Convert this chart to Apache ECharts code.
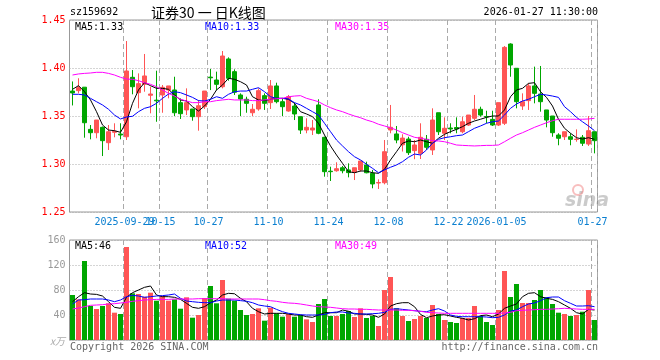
<!DOCTYPE html>
<html>
<head>
<meta charset="utf-8">
<script src="https://cdn.jsdelivr.net/npm/echarts@6/dist/echarts.min.js"></script>
<style>html,body{margin:0;padding:0;background:#fff;}#c{width:660px;height:360px;}</style>
</head>
<body>
<div id="c"></div>
<script>
// ---------- data ----------
const dates = [
'2025-09-16','2025-09-17','2025-09-18','2025-09-19','2025-09-22','2025-09-23','2025-09-24','2025-09-25','2025-09-26','2025-09-29',
'2025-09-30','2025-10-09','2025-10-10','2025-10-13','2025-10-14','2025-10-15','2025-10-16','2025-10-17','2025-10-20','2025-10-21',
'2025-10-22','2025-10-23','2025-10-24','2025-10-27','2025-10-28','2025-10-29','2025-10-30','2025-10-31','2025-11-03','2025-11-04',
'2025-11-05','2025-11-06','2025-11-07','2025-11-10','2025-11-11','2025-11-12','2025-11-13','2025-11-14','2025-11-17','2025-11-18',
'2025-11-19','2025-11-20','2025-11-21','2025-11-24','2025-11-25','2025-11-26','2025-11-27','2025-11-28','2025-12-01','2025-12-02',
'2025-12-03','2025-12-04','2025-12-05','2025-12-08','2025-12-09','2025-12-10','2025-12-11','2025-12-12','2025-12-15','2025-12-16',
'2025-12-17','2025-12-18','2025-12-19','2025-12-22','2025-12-23','2025-12-24','2025-12-25','2025-12-26','2025-12-29','2025-12-30',
'2025-12-31','2026-01-05','2026-01-06','2026-01-07','2026-01-08','2026-01-09','2026-01-12','2026-01-13','2026-01-14','2026-01-15',
'2026-01-16','2026-01-19','2026-01-20','2026-01-21','2026-01-22','2026-01-23','2026-01-26','2026-01-27'];

const openP = [1.376,1.3764,1.380,1.3361,1.3326,1.3382,1.3222,1.333,1.3312,1.3284,
1.3903,1.3743,1.383,1.3716,1.3665,1.3719,1.3771,1.3771,1.3639,1.3563,
1.3573,1.3493,1.3597,1.3905,1.3875,1.3805,1.4094,1.3962,1.3719,1.3674,
1.3534,1.3573,1.3712,1.3639,1.3813,1.3649,1.3552,1.3604,1.3493,1.3354,
1.3354,1.3615,1.3278,1.2925,1.293,1.2961,1.2938,1.2914,1.2938,1.299,
1.2903,1.2802,1.2805,1.3354,1.3313,1.320,1.326,1.3139,1.3111,1.3257,
1.3146,1.3534,1.332,1.3375,1.338,1.3336,1.3406,1.3476,1.357,1.3495,
1.3465,1.3406,1.3424,1.425,1.3997,1.3604,1.366,1.3813,1.3729,1.3563,
1.35,1.3302,1.3284,1.3284,1.3255,1.3278,1.3208,1.3336];
const closeP = [1.374,1.3795,1.343,1.3326,1.3458,1.3243,1.3336,1.334,1.3302,1.3969,
1.3805,1.3837,1.3917,1.3729,1.3658,1.3799,1.3813,1.3534,1.3524,1.3639,
1.3493,1.3607,1.376,1.3898,1.383,1.4125,1.3893,1.3747,1.3677,1.3632,
1.357,1.3764,1.3632,1.3813,1.3649,1.3597,1.3701,1.3521,1.3354,1.3382,
1.3375,1.332,1.292,1.292,1.2951,1.293,1.291,1.2961,1.3031,1.2909,
1.2792,1.2807,1.3128,1.3382,1.325,1.327,1.3118,1.3198,1.3278,1.3174,
1.3458,1.3336,1.3372,1.3365,1.3365,1.344,1.351,1.357,1.351,1.349,
1.3406,1.3639,1.4215,1.4031,1.3649,1.3649,1.3813,1.3736,1.3649,1.3458,
1.3326,1.3268,1.3336,1.3257,1.3259,1.3216,1.3347,1.3243];
const lowP = [1.361,1.3736,1.3274,1.3257,1.3268,1.3083,1.3146,1.3278,1.3257,1.325,
1.3726,1.358,1.3753,1.3528,1.344,1.3534,1.3684,1.35,1.3469,1.351,
1.3451,1.3347,1.3573,1.377,1.377,1.3788,1.3868,1.3719,1.35,1.3534,
1.35,1.3555,1.3563,1.3573,1.3632,1.35,1.3545,1.3458,1.3313,1.332,
1.3302,1.331,1.2868,1.2823,1.292,1.2903,1.2861,1.2833,1.292,1.2903,
1.2747,1.274,1.2788,1.332,1.3216,1.313,1.3094,1.305,1.3052,1.3146,
1.3094,1.3302,1.325,1.332,1.332,1.332,1.3396,1.3458,1.3493,1.3424,
1.3396,1.3396,1.3406,1.3909,1.358,1.3563,1.3563,1.3632,1.3545,1.3382,
1.3284,1.3195,1.325,1.3195,1.3232,1.3188,1.3188,1.3111];
const highP = [1.386,1.3893,1.380,1.3406,1.3458,1.339,1.3406,1.3424,1.3424,1.4281,
1.3979,1.3944,1.4146,1.3805,1.3972,1.3823,1.3813,1.3909,1.3684,1.3788,
1.3573,1.3667,1.376,1.399,1.3962,1.4177,1.4111,1.3986,1.3736,1.3701,
1.3625,1.3788,1.3736,1.3875,1.3847,1.3684,1.3719,1.3639,1.3493,1.3476,
1.3458,1.3674,1.3284,1.2972,1.3018,1.2979,1.3007,1.2961,1.3031,1.3024,
1.2938,1.284,1.325,1.3615,1.3396,1.331,1.3284,1.325,1.3424,1.3302,
1.358,1.3534,1.3486,1.3424,1.3486,1.3493,1.351,1.3719,1.3597,1.3555,
1.3555,1.3639,1.4229,1.4257,1.3997,1.3736,1.384,1.4014,1.4021,1.3563,
1.35,1.332,1.3336,1.332,1.3361,1.3302,1.35,1.3336];

const ma5 = [1.3778,1.3816,1.3753,1.3667,1.3545,1.3406,1.3354,1.3347,1.333,1.344,
1.3632,1.3771,1.3847,1.3816,1.3788,1.3788,1.3778,1.3719,1.3667,1.3656,
1.3597,1.3552,1.3604,1.3674,1.3771,1.3823,1.3893,1.3882,1.3857,1.3823,
1.3701,1.3667,1.366,1.3674,1.3684,1.3684,1.3674,1.3632,1.3545,1.3521,
1.3493,1.3424,1.3302,1.3188,1.3094,1.3007,1.292,1.2909,1.2927,1.2927,
1.2909,1.2903,1.2945,1.3042,1.3128,1.3216,1.324,1.3232,1.325,1.3232,
1.3216,1.3268,1.3309,1.3337,1.3361,1.3389,1.3424,1.3448,1.3466,1.3486,
1.35,1.35,1.3563,1.3701,1.3771,1.3788,1.384,1.3847,1.3753,1.3694,
1.3604,1.3466,1.3372,1.332,1.3274,1.326,1.3274,1.3257];
const ma10 = [1.3726,1.3726,1.3719,1.3684,1.3649,1.3615,1.357,1.351,1.3469,1.349,
1.3497,1.3545,1.358,1.3597,1.3632,1.3684,1.3729,1.3753,1.3743,1.3719,
1.3694,1.366,1.3656,1.3674,1.3701,1.3684,1.3726,1.3753,1.376,1.376,
1.3778,1.3795,1.3753,1.3701,1.3684,1.3684,1.3677,1.3639,1.3615,1.358,
1.3545,1.351,1.3424,1.3337,1.325,1.3188,1.3128,1.3076,1.3042,1.2997,
1.2955,1.2909,1.2938,1.2966,1.299,1.3024,1.307,1.3104,1.3094,1.3146,
1.3216,1.3257,1.3274,1.3284,1.3295,1.3302,1.3337,1.3372,1.3396,1.3424,
1.344,1.3448,1.351,1.358,1.3625,1.3656,1.3674,1.3701,1.3726,1.3719,
1.3708,1.3694,1.3597,1.3545,1.3486,1.344,1.3396,1.3347];
const ma30 = [1.3927,1.3938,1.3944,1.3948,1.3955,1.3955,1.3944,1.3927,1.3903,1.3885,
1.3882,1.3868,1.3847,1.383,1.3805,1.3771,1.3736,1.3708,1.3674,1.3656,
1.3639,1.3639,1.3649,1.3649,1.366,1.3667,1.3674,1.3667,1.3667,1.3667,
1.366,1.366,1.3667,1.3674,1.368,1.3684,1.3701,1.3708,1.3712,1.3684,
1.3667,1.3649,1.3615,1.3587,1.3563,1.3545,1.3521,1.35,1.3482,1.3458,
1.344,1.3414,1.3396,1.3378,1.3354,1.3326,1.3302,1.3278,1.3268,1.3257,
1.3243,1.324,1.3232,1.3216,1.3198,1.3194,1.3191,1.3188,1.3191,1.3194,
1.3194,1.3198,1.3232,1.3268,1.3302,1.3326,1.3354,1.3382,1.3406,1.343,
1.3451,1.3466,1.3466,1.3466,1.3466,1.3466,1.3469,1.3476];

const vol = [72,65,126.4,54.4,49.6,54.4,58.7,43.7,41.6,148.8,
74.7,73.6,69.3,75.7,62.9,70.4,62.9,65,50.1,68.3,
35.7,40,67.2,86.4,58.7,96,66.1,62.9,48,40,
41.6,50.7,30.9,51.7,42.7,37.3,41.6,37.3,40,33,
28.8,57.6,65.6,38.4,38.4,41.6,46.4,36.8,50.7,35.2,
38.4,22.4,80,100.8,50.7,38.4,30.4,33.6,38.4,35.2,
56,41.6,32,28.8,27.2,35.2,35.2,54.4,38.4,28.8,
24,48,110.4,68.8,89.6,59.2,59.2,64,80,68.3,
57.6,43.7,41.6,38.4,40,45.3,80,32];
const vma5 = [61.3,69.3,75.7,73.6,73,70.4,61.3,52.3,50.7,68.3,
75.7,80,84.3,86.4,72,69.3,69.3,68.3,65,58.7,
52.3,50.7,53.3,59.7,64,72,74.7,74,66.7,61.3,
50.7,45.3,41.6,42.7,42.7,42.7,41.6,40,40,37.3,
36.3,40,43.7,43.7,43.7,48,46,41.6,41.6,41,
40,36.3,41.6,54.4,58.1,59.7,59.7,53.3,41,35.7,
38.4,40,40.5,38.4,36.3,34.7,32,34.1,39,40,
37.3,41.6,50.7,54.4,57.6,69.3,74.7,75.7,69.3,66.7,
65,61.3,56,50.7,43.7,41.6,49,48];
const vma10 = [57.6,64,64.5,65.6,65.6,65.6,64,61.3,64,69.3,
71.5,70.4,68.3,69.3,70.4,71,72,73.6,66.7,62.4,
61.3,60.3,59.7,59.7,62.4,64,64,64,63,62,
59.7,56,54.4,53.3,49,45.3,42.7,41.6,40.5,40,
40,40,41,43.7,44.8,44.8,43.2,42.7,41.6,41.6,
42.1,42.7,44.3,49,50.1,49,48,46.9,45.9,45.3,
48,50.1,46.4,40,37.9,37.3,37.3,37.3,37.3,36.8,
35.7,36.3,40,46.4,48,53.3,57.6,59.2,62.9,67.7,
68.8,68.8,62.9,58.7,54.4,54.4,54.9,53.3];
const vma30 = [49.6,51.2,53.3,55.5,56,56.5,57.6,58.1,59.2,60.3,
61.9,62.9,64,64.5,65,65,65,65.6,65.6,65.6,
65.6,66.1,66.1,66.1,66.1,66.1,65.6,65.6,65.6,65.6,
65.6,65.6,64.5,62.9,61.9,60.3,59.2,58.7,57.6,56,
54.4,53.3,52.8,52.3,51.2,50.1,49.6,49.6,49.1,49.1,
48.5,48,48,48,48,47.5,47.5,46.9,45.9,44.3,
43.7,43.2,42.7,42.7,42.7,42.7,42.7,42.7,42.7,42.7,
42.7,42.7,43.2,44.3,46.9,47.5,48,48.5,49.1,49.1,
49.6,50.1,50.7,50.1,49.6,49.1,49.1,49.1];

const tickIdx = [9,15,23,33,43,53,63,71,87];
const tickText = ['2025-09-29','10-15','10-27','11-10','11-24','12-08','12-22','2026-01-05','01-27'];
const priceLegend = ['MA5:1.33','MA10:1.33','MA30:1.35'];
const volLegend = ['MA5:46','MA10:52','MA30:49'];

// ---------- chart ----------
const UP = '#ff5555', DOWN = '#00a600';
const MONO = 'DejaVu Sans Mono';
const chart = echarts.init(document.getElementById('c'), null, {renderer:'canvas'});
const kData = dates.map((d,i)=>[openP[i],closeP[i],lowP[i],highP[i]]);
const vData = vol.map((v,i)=>({value:v, itemStyle:{color: closeP[i]>=openP[i]?UP:DOWN}}));
const showTick = (i)=>tickIdx.indexOf(i)>=0;
const labelStyle = {color:'#0a7fd0', fontFamily:MONO, fontSize:10, margin:5, padding:[0,4,0,0], hideOverlap:false,
  formatter:(v,i)=>tickText[tickIdx.indexOf(i)]||''};
const base = {
  type:'category', data:dates, boundaryGap:true,
  axisLine:{show:false}, axisTick:{show:false}
};
const lineS = (name,data,color,xi,yi)=>({name,type:'line',data,xAxisIndex:xi,yAxisIndex:yi,
  symbol:'none',lineStyle:{color,width:1},itemStyle:{color},z:4,silent:true});

const txt = (x,y,text,fill,opts)=>({type:'text',x,y,style:Object.assign({text,fill,font:'10px "'+MONO+'"',textVerticalAlign:'middle'},opts||{})});

chart.setOption({
  animation:false,
  backgroundColor:'#fff',
  grid:[
    {left:69.5, width:528, top:20, height:192, show:true, borderColor:'#999', borderWidth:1, backgroundColor:'transparent'},
    {left:69.5, width:528, top:240, height:100, show:true, borderColor:'#999', borderWidth:1, backgroundColor:'transparent'}
  ],
  xAxis:[
    Object.assign({}, base, {gridIndex:0,
      splitLine:{show:true, interval:(i)=>showTick(i), lineStyle:{color:'#aaa', width:1, type:[5,3]}},
      axisLabel:Object.assign({}, labelStyle, {interval:(i)=>showTick(i) && i!==tickIdx[0]})}),
    Object.assign({}, base, {gridIndex:0, position:'bottom', splitLine:{show:false},
      axisLabel:Object.assign({}, labelStyle, {interval:(i)=>i===tickIdx[0]})}),
    Object.assign({}, base, {gridIndex:1, axisLabel:{show:false},
      splitLine:{show:true, interval:(i)=>showTick(i), lineStyle:{color:'#aaa', width:1, type:[5,3]}}})
  ],
  yAxis:[
    {gridIndex:0, type:'value', min:1.25, max:1.45, interval:0.05, axisLine:{show:false}, axisTick:{show:false},
     axisLabel:{color:'#ff0000', fontFamily:MONO, fontSize:10, margin:4, formatter:(v)=>v.toFixed(2)},
     splitLine:{show:true, lineStyle:{color:'#aaa', width:1, type:[1,2]}}},
    {gridIndex:1, type:'value', min:0, max:160, interval:40, axisLine:{show:false}, axisTick:{show:false},
     axisLabel:{color:'#999', fontFamily:MONO, fontSize:10, margin:4, formatter:(v)=>v===0?'':String(v)},
     splitLine:{show:true, lineStyle:{color:'#aaa', width:1, type:[1,2]}}}
  ],
  series:[
    {type:'candlestick', data:kData, xAxisIndex:0, yAxisIndex:0, barWidth:4, z:3,
     itemStyle:{color:UP, color0:DOWN, borderColor:UP, borderColor0:DOWN, borderWidth:1}},
    lineS('MA5',ma5,'#000000',0,0),
    lineS('MA10',ma10,'#0000ff',0,0),
    lineS('MA30',ma30,'#ff00ff',0,0),
    {type:'bar', data:vData, xAxisIndex:2, yAxisIndex:1, barWidth:5, z:3},
    lineS('VMA5',vma5,'#000000',2,1),
    lineS('VMA10',vma10,'#0000ff',2,1),
    lineS('VMA30',vma30,'#ff00ff',2,1)
  ],
  graphic:[
    txt(70,12,'sz159692','#000'),
    txt(151,13,'证券30 一 日K线图','#000',{font:'14px "Noto Sans CJK SC"'}),
    txt(598,12,'2026-01-27 11:30:00','#000',{textAlign:'right'}),
    txt(75,27,priceLegend[0],'#000'),
    txt(205,27,priceLegend[1],'#0000ff'),
    txt(335,27,priceLegend[2],'#ff00ff'),
    txt(75,246,volLegend[0],'#000'),
    txt(205,246,volLegend[1],'#0000ff'),
    txt(335,246,volLegend[2],'#ff00ff'),
    txt(50,341,'x万','#aaa',{font:'italic 10px "Noto Sans CJK SC"'}),
    txt(70,347,'Copyright 2026 SINA.COM','#666'),
    txt(598,347,'http://finance.sina.com.cn','#666',{textAlign:'right'}),
    {type:'circle', shape:{cx:578,cy:190,r:5}, style:{fill:'none', stroke:'rgba(240,110,110,0.45)', lineWidth:2}, z:1},
    txt(565,201,'sina','rgba(140,140,140,0.45)',{font:'italic bold 19px "DejaVu Sans"'})
  ]
});
</script>
</body>
</html>
